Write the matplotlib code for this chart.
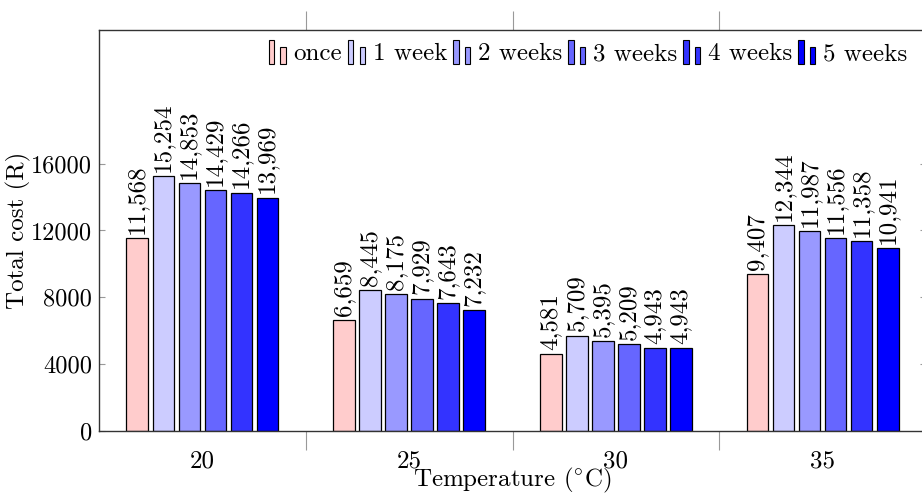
import numpy as np
import matplotlib
matplotlib.use("Agg")
from matplotlib import pyplot as plt
from matplotlib.patches import Rectangle
from matplotlib.legend_handler import HandlerBase

# Computer Modern look, like the pgfplots original
plt.rcParams['font.family'] = 'cmr10'
plt.rcParams['mathtext.fontset'] = 'cm'
plt.rcParams['axes.formatter.use_mathtext'] = True
plt.rcParams['font.size'] = 18

temperatures = ['20', '25', '30', '35']
series_names = ['once', '1 week', '2 weeks', '3 weeks', '4 weeks', '5 weeks']
once = [11568, 6659, 4581, 9407]
week1 = [15254, 8445, 5709, 12344]
week2 = [14853, 8175, 5395, 11987]
week3 = [14429, 7929, 5209, 11556]
week4 = [14266, 7643, 4943, 11358]
week5 = [13969, 7232, 4943, 10941]
colors = ['#ffcccc', '#ccccff', '#9999ff', '#6666ff', '#3333ff', '#0000ff']


class TwoBarHandler(HandlerBase):
    # pgfplots style ybar legend image: two little bars, left one taller
    def create_artists(self, legend, orig_handle, xdescent, ydescent,
                       width, height, fontsize, trans):
        fc = orig_handle.get_facecolor()
        w = width * 0.32
        y0 = -ydescent - 0.2 * height
        r1 = Rectangle((-xdescent, y0), w, height * 1.35,
                       facecolor=fc, edgecolor='black', lw=0.8, transform=trans)
        r2 = Rectangle((-xdescent + width - w, y0), w, height * 0.95,
                       facecolor=fc, edgecolor='black', lw=0.8, transform=trans)
        return [r1, r2]


fig = plt.figure(figsize=(9.22, 4.94), dpi=100)
ax = fig.add_axes([99 / 922, 63 / 494, 827 / 922, 401 / 494])

all_series = [once, week1, week2, week3, week4, week5]
x = np.arange(len(temperatures))
slot = 0.1258
width = 0.105
handles = []
for i, vals in enumerate(all_series):
    pos = x + (i - 2.5) * slot
    bars = ax.bar(pos, vals, width, color=colors[i], edgecolor='black',
                  linewidth=0.9, label=series_names[i])
    handles.append(bars[0])
    for px, v in zip(pos, vals):
        ax.annotate(f'{v:,}', (px, v), xytext=(0, 3), textcoords='offset points',
                    rotation=90, ha='center', va='bottom', fontsize=18)

ax.set_xlim(-0.5, 3.5)
ax.set_ylim(0, 24000)
ax.set_yticks([0, 4000, 8000, 12000, 16000])
ax.set_yticklabels(['0', '4000', '8000', '12000', '16000'], fontsize=17.5)
ax.set_xticks(x)
ax.set_xticklabels(temperatures)
ax.set_xticks([0.5, 1.5, 2.5], minor=True)
ax.tick_params(axis='x', which='major', length=0, pad=14)
ax.tick_params(axis='x', which='minor', length=14, direction='out',
               color='#999999', top=True, bottom=True, width=0.8)
ax.tick_params(axis='y', which='major', direction='in', length=4,
               color='#999999', left=True, right=True, pad=5, width=0.8)

for s in ax.spines.values():
    s.set_color('#333333')
    s.set_linewidth(1.0)

ax.set_ylabel('Total cost (R)')
ax.yaxis.set_label_coords(-0.082, 0.5)
ax.set_xlabel(r'Temperature ($^{\circ}$C)')
ax.xaxis.set_label_coords(0.5, -0.087)

ax.legend(handles=handles, labels=series_names, ncol=6, frameon=False,
          handler_map={h: TwoBarHandler() for h in handles},
          loc='upper right', bbox_to_anchor=(917 / 922, 1 - 33 / 494),
          bbox_transform=fig.transFigure, handlelength=0.68,
          handletextpad=0.3, columnspacing=0.25, borderaxespad=0, fontsize=18)

fig.savefig('out.png', dpi=100)
